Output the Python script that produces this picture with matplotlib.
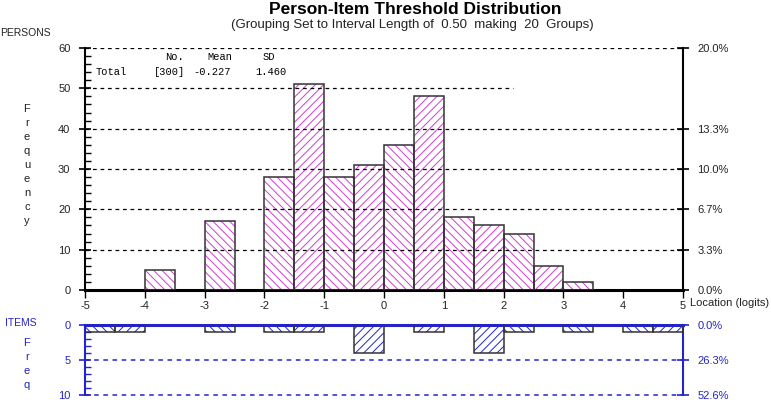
import numpy as np
import matplotlib.pyplot as plt
from matplotlib.ticker import MultipleLocator

# grouping: 20 intervals of 0.50 logits from -5 to 5
interval = 0.5
bin_left = np.arange(-5, 5, interval)

persons = [0, 0, 5, 0, 17, 0, 28, 51, 28, 31, 36, 48, 18, 16, 14, 6, 2, 0, 0, 0]
items = [1, 1, 0, 0, 1, 0, 1, 1, 0, 4, 0, 1, 0, 4, 1, 0, 1, 0, 1, 1]

person_pct_ticks = [0, 10, 20, 30, 40, 60]
person_pct_labels = ['0.0%', '3.3%', '6.7%', '10.0%', '13.3%', '20.0%']
item_pct_ticks = [0, 5, 10]
item_pct_labels = ['0.0%', '26.3%', '52.6%']

n_total, mean_loc, sd_loc = 300, -0.227, 1.460

BLUE = '#2424c8'
MAGENTA = '#d23cd2'
NARROW = ['Liberation Sans Narrow', 'Liberation Sans', 'DejaVu Sans']

plt.rcParams['font.family'] = NARROW
plt.rcParams['hatch.linewidth'] = 0.7

W, H = 771, 400
fig = plt.figure(figsize=(W / 100, H / 100), dpi=100)


def fx(px):
    return px / W


def fy(py):
    return 1 - py / H


# ---------- persons panel ----------
ax = fig.add_axes([fx(85), fy(290), 598 / W, 242 / H])
ax.set_xlim(-5, 5)
ax.set_ylim(0, 60)

for i, (x, h) in enumerate(zip(bin_left, persons)):
    if h == 0:
        continue
    hatch = '\\\\\\\\' if i % 2 == 0 else '////'
    ax.bar(x, h, width=interval, align='edge', fill=False, hatch=hatch,
           edgecolor=MAGENTA, linewidth=0, zorder=2)
    ax.bar(x, h, width=interval, align='edge', fill=False,
           edgecolor='#333333', linewidth=1.1, zorder=3)

for lvl in [10, 20, 30, 40, 60]:
    ax.hlines(lvl, -5, 5, colors='black', linestyles=(0, (3, 3)), linewidth=0.9, zorder=4)
ax.hlines(50, -5, 2.16, colors='black', linestyles=(0, (3, 3)), linewidth=0.9, zorder=4)

ax.spines['top'].set_visible(False)
ax.spines['bottom'].set_linewidth(2.2)
ax.spines['left'].set_linewidth(1.5)
ax.spines['right'].set_linewidth(1.5)
ax.set_xticks(range(-5, 6))
ax.set_xticklabels([str(v) for v in range(-5, 6)], fontsize=8, color='#222222')
ax.tick_params(axis='x', direction='out', length=6, width=1, pad=2)
ax.set_yticks(range(0, 61, 10))
ax.yaxis.set_minor_locator(MultipleLocator(2))
ax.tick_params(axis='y', which='major', direction='inout', length=9, width=1.2,
               labelsize=8, labelcolor='#222222', pad=6)
ax.tick_params(axis='y', which='minor', direction='in', length=4, width=1)

ax2 = ax.twinx()
ax2.set_ylim(0, 60)
ax2.set_yticks(person_pct_ticks)
ax2.set_yticklabels(person_pct_labels)
ax2.tick_params(axis='y', direction='inout', length=9, width=1.2, labelsize=8,
                labelcolor='#222222', pad=6)
for s in ax2.spines.values():
    s.set_visible(False)

fig.text(fx(690), fy(303), 'Location (logits)', fontsize=8, va='center', ha='left', color='#222222')

# stats box
mono = ['Liberation Mono', 'DejaVu Sans Mono']
fig.text(fx(165), fy(57), 'No.', family=mono, fontsize=7.5, va='center')
fig.text(fx(207), fy(57), 'Mean', family=mono, fontsize=7.5, va='center')
fig.text(fx(263), fy(57), 'SD', family=mono, fontsize=7.5, va='center')
fig.text(fx(96), fy(72), 'Total', family=mono, fontsize=7.5, va='center')
fig.text(fx(154), fy(72), '[{}]'.format(n_total), family=mono, fontsize=7.5, va='center')
fig.text(fx(193), fy(72), '{:.3f}'.format(mean_loc), family=mono, fontsize=7.5, va='center')
fig.text(fx(255), fy(72), '{:.3f}'.format(sd_loc), family=mono, fontsize=7.5, va='center')

# titles
fig.text(fx(415), fy(10), 'Person-Item Threshold Distribution', fontsize=12.5,
         fontweight='bold', ha='center', va='center')
fig.text(fx(412), fy(25), '(Grouping Set to Interval Length of  0.50  making  20  Groups)',
         fontsize=9.5, ha='center', va='center', color='#222222')
fig.text(fx(0), fy(33), 'PERSONS', fontsize=7.5, ha='left', va='center', color='#222222')
for k, ch in enumerate('Frequency'):
    fig.text(fx(27), fy(109 + 14 * k), ch, fontsize=8, ha='center', va='center', color='#222222')

# ---------- items panel ----------
bx = fig.add_axes([fx(85), fy(395), 598 / W, 70 / H])
bx.set_xlim(-5, 5)
bx.set_ylim(10, 0)

for i, (x, h) in enumerate(zip(bin_left, items)):
    if h == 0:
        continue
    hatch = '\\\\\\\\' if i % 2 == 0 else '////'
    bx.bar(x, h, width=interval, align='edge', fill=False, hatch=hatch,
           edgecolor=BLUE, linewidth=0, zorder=2)
    bx.bar(x, h, width=interval, align='edge', fill=False,
           edgecolor='#333333', linewidth=1.1, zorder=3)

for lvl in [5, 10]:
    bx.hlines(lvl, -5, 5, colors=BLUE, linestyles=(0, (3, 3)), linewidth=1.1,
              zorder=4, clip_on=False)

bx.spines['bottom'].set_visible(False)
bx.spines['top'].set_linewidth(2.2)
bx.spines['top'].set_color(BLUE)
bx.spines['left'].set_linewidth(1.5)
bx.spines['left'].set_color(BLUE)
bx.spines['right'].set_linewidth(1.5)
bx.spines['right'].set_color(BLUE)
bx.set_xticks([])
bx.set_yticks([0, 5, 10])
bx.yaxis.set_minor_locator(MultipleLocator(1))
bx.tick_params(axis='y', which='major', direction='inout', length=9, width=1.2,
               labelsize=8, colors=BLUE, pad=6)
bx.tick_params(axis='y', which='minor', direction='in', length=4, width=1, colors=BLUE)

bx2 = bx.twinx()
bx2.set_ylim(10, 0)
bx2.set_yticks(item_pct_ticks)
bx2.set_yticklabels(item_pct_labels)
bx2.tick_params(axis='y', direction='inout', length=9, width=1.2, labelsize=8,
                colors=BLUE, pad=6)
for s in bx2.spines.values():
    s.set_visible(False)

fig.text(fx(5), fy(323), 'ITEMS', fontsize=7.5, ha='left', va='center', color=BLUE)
for k, ch in enumerate('Freq'):
    fig.text(fx(27), fy(343 + 14 * k), ch, fontsize=8, ha='center', va='center', color=BLUE)

fig.savefig('out.png', dpi=100)
